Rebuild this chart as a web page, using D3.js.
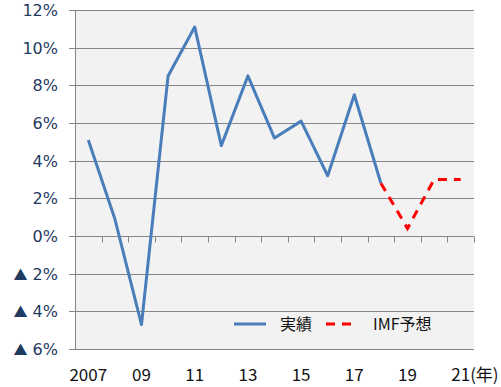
<!DOCTYPE html>
<html><head><meta charset="utf-8">
<script src="https://cdn.jsdelivr.net/npm/d3@7"></script>
<style>body{margin:0;background:#fff}svg{display:block}</style>
</head><body><svg id="c" width="501" height="387"></svg>
<script>
const years = [2007,2008,2009,2010,2011,2012,2013,2014,2015,2016,2017,2018,2019,2020,2021];
const actual = [5.1,0.9,-4.7,8.5,11.1,4.8,8.5,5.2,6.1,3.2,7.5,2.8,null,null,null];
const forecast = [null,null,null,null,null,null,null,null,null,null,null,2.8,0.4,3.0,3.0];
const yTicks = [12,10,8,6,4,2,0,-2,-4,-6];
const xLabelYears = [2007,2009,2011,2013,2015,2017,2019,2021];
const xLabelText = ["2007","09","11","13","15","17","19","21"];
const legendLabels = ["実績","IMF予想"];

const svg = d3.select("#c");
const L=75, R=474, T=10, B=349;
const x = d3.scaleBand().domain(years).range([L,R]);
const y = d3.scaleLinear().domain([-6,12]).range([B,T]);
const cx = d => x(d)+x.bandwidth()/2;
const font = "'Noto Sans CJK JP','Noto Sans',sans-serif";
const yfont = "'DejaVu Sans',sans-serif";

svg.append("rect").attr("x",L).attr("y",T).attr("width",R-L).attr("height",B-T).attr("fill","#f2f2f2");
// gridlines
svg.selectAll(".g").data(yTicks).join("line")
  .attr("x1",L-6).attr("x2",R).attr("y1",d=>Math.round(y(d))+0.5).attr("y2",d=>Math.round(y(d))+0.5)
  .attr("stroke","#868686").attr("stroke-width",1);
// left axis
svg.append("line").attr("x1",L+0.5).attr("x2",L+0.5).attr("y1",T).attr("y2",B).attr("stroke","#868686");
// category ticks on 0 line
const y0 = Math.round(y(0))+0.5;
svg.selectAll(".t").data(d3.range(years.length+1)).join("line")
  .attr("x1",i=>Math.round(L+i*x.step())+0.5).attr("x2",i=>Math.round(L+i*x.step())+0.5)
  .attr("y1",y0).attr("y2",y0+6).attr("stroke","#868686");

// y labels
const yl = svg.selectAll(".yl").data(yTicks).join("text")
  .attr("x",58).attr("y",d=>y(d)+6).attr("text-anchor","end")
  .attr("font-family",yfont).attr("font-size",16).attr("fill","#1f3a60");
yl.each(function(d){
  const t=d3.select(this);
  if(d<0){
    t.append("tspan").attr("font-family",font).attr("font-size",14).text("▲");
    t.append("tspan").text(" "+Math.abs(d)+"%");
  } else t.text(d+"%");
});

// x labels
xLabelYears.forEach((yr,i)=>{
  if(i===xLabelYears.length-1){
    const t = svg.append("text").attr("y",381).attr("font-family",font).attr("font-size",17).attr("fill","#111");
    const s1 = t.append("tspan").text(xLabelText[i]);
    t.append("tspan").text("(年)");
    const w = s1.node().getComputedTextLength();
    t.attr("x",cx(yr)-w/2);
  } else {
    svg.append("text").attr("x",cx(yr)).attr("y",381).attr("text-anchor","middle")
      .attr("font-family",font).attr("font-size",17).attr("fill","#111").text(xLabelText[i]);
  }
});

const line = d3.line().defined(d=>d.v!==null).x(d=>cx(d.yr)).y(d=>y(d.v));
svg.append("path").datum(years.map((yr,i)=>({yr,v:actual[i]})))
  .attr("d",line).attr("fill","none").attr("stroke","#4a7ebb").attr("stroke-width",3).attr("stroke-linejoin","round");
svg.append("path").datum(years.map((yr,i)=>({yr,v:forecast[i]})))
  .attr("d",line).attr("fill","none").attr("stroke","#ff0000").attr("stroke-width",3).attr("stroke-dasharray","9,7");

// legend
svg.append("line").attr("x1",234).attr("x2",266).attr("y1",324).attr("y2",324).attr("stroke","#4a7ebb").attr("stroke-width",3);
svg.append("text").attr("x",280).attr("y",330).attr("font-family",font).attr("font-size",16).attr("fill","#111").text(legendLabels[0]);
svg.append("line").attr("x1",326).attr("x2",358).attr("y1",324).attr("y2",324).attr("stroke","#ff0000").attr("stroke-width",3).attr("stroke-dasharray","9,7");
svg.append("text").attr("x",373).attr("y",330).attr("font-family",font).attr("font-size",16).attr("fill","#111").text(legendLabels[1]);
</script></body></html>
